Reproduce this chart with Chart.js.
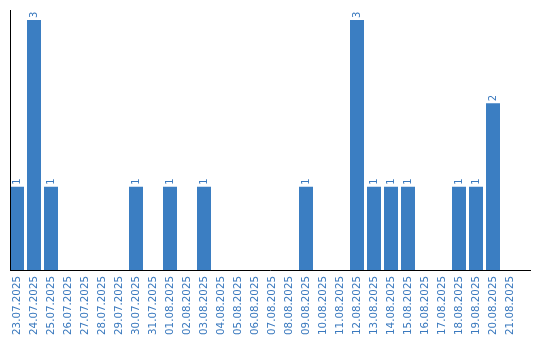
<!DOCTYPE html>
<html>
<head>
<meta charset="utf-8">
<script src="https://cdn.jsdelivr.net/npm/chart.js@4/dist/chart.umd.min.js"></script>
<style>
html,body{margin:0;padding:0;background:#fff;}
#wrap{width:540px;height:340px;}
</style>
</head>
<body>
<div id="wrap"><canvas id="c" width="540" height="340"></canvas></div>
<script>
const dates = ["23.07.2025","24.07.2025","25.07.2025","26.07.2025","27.07.2025","28.07.2025","29.07.2025","30.07.2025","31.07.2025","01.08.2025","02.08.2025","03.08.2025","04.08.2025","05.08.2025","06.08.2025","07.08.2025","08.08.2025","09.08.2025","10.08.2025","11.08.2025","12.08.2025","13.08.2025","14.08.2025","15.08.2025","16.08.2025","17.08.2025","18.08.2025","19.08.2025","20.08.2025","21.08.2025"];
const counts = [1,3,1,0,0,0,0,1,0,1,0,1,0,0,0,0,0,1,0,0,3,1,1,1,0,0,1,1,2,0];
const yMax = 3.12;

const BAR = '#3b7ec2';
const TXT = '#3a79be';
const FONT = '"DejaVu Sans", Verdana, sans-serif';

const valueLabels = {
  id: 'valueLabels',
  afterDatasetsDraw(chart) {
    const ctx = chart.ctx;
    const meta = chart.getDatasetMeta(0);
    ctx.save();
    ctx.fillStyle = TXT;
    ctx.font = '10px ' + FONT;
    ctx.textAlign = 'left';
    ctx.textBaseline = 'middle';
    meta.data.forEach((bar, i) => {
      const v = counts[i];
      if (!v) return;
      ctx.save();
      ctx.translate(bar.x, bar.y - 2);
      ctx.rotate(-Math.PI / 2);
      ctx.fillText(String(v), 0, 0);
      ctx.restore();
    });
    ctx.restore();
  }
};

const axisLines = {
  id: 'axisLines',
  afterDraw(chart) {
    const ctx = chart.ctx;
    const a = chart.chartArea;
    ctx.save();
    ctx.strokeStyle = '#000';
    ctx.lineWidth = 1;
    ctx.beginPath();
    ctx.moveTo(a.left + 2, a.top);
    ctx.lineTo(a.left + 2, a.bottom + 1);
    ctx.stroke();
    ctx.beginPath();
    ctx.moveTo(a.left + 1.5, a.bottom + 0.5);
    ctx.lineTo(a.right + 12.5, a.bottom + 0.5);
    ctx.stroke();
    ctx.restore();
  }
};

new Chart(document.getElementById('c'), {
  type: 'bar',
  data: {
    labels: dates,
    datasets: [{
      data: counts,
      backgroundColor: BAR,
      borderWidth: 0,
      barPercentage: 14/17,
      categoryPercentage: 1
    }]
  },
  options: {
    responsive: false,
    animation: false,
    devicePixelRatio: 1,
    layout: { padding: { left: 8.5, right: 21.5, top: 10, bottom: 0 } },
    plugins: { legend: { display: false }, tooltip: { enabled: false } },
    scales: {
      x: {
        grid: { display: false, drawTicks: false },
        border: { display: false },
        afterFit(s) { s.height = 70; },
        ticks: {
          autoSkip: false,
          maxRotation: 90,
          minRotation: 90,
          padding: 6,
          color: TXT,
          font: { family: FONT, size: 10.3 }
        }
      },
      y: {
        min: 0,
        max: yMax,
        display: true,
        grid: { display: false, drawTicks: false },
        border: { display: false },
        ticks: { display: false },
        afterFit(s) { s.width = 0; }
      }
    }
  },
  plugins: [valueLabels, axisLines]
});
</script>
</body>
</html>
